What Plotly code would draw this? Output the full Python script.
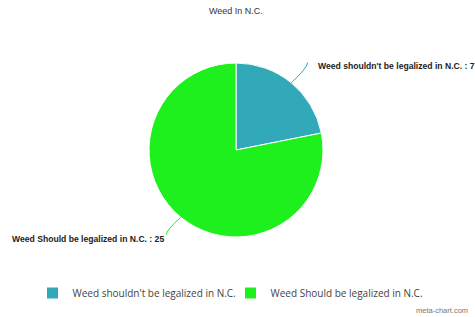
import math
import plotly.graph_objects as go

labels = ["Weed shouldn't be legalized in N.C.", "Weed Should be legalized in N.C."]
values = [7, 25]
colors = ["#31a9b8", "#1ef01e"]
title = "Weed In N.C."

W, H = 475, 317
cx, cy, r = 236, 150, 87  # pie centre / radius in pixels

def px(x):
    return x / W

def py(y):
    return 1 - y / H

fig = go.Figure(go.Pie(
    labels=labels, values=values, sort=False, direction="clockwise", rotation=0,
    marker=dict(colors=colors, line=dict(color="white", width=1)),
    textinfo="none", hoverinfo="label+value",
    domain=dict(x=[px(cx - r), px(cx + r)], y=[py(cy + r), py(cy - r)]),
))

shapes, annotations = [], []
total = sum(values)
acc = 0
for lab, v, col in zip(labels, values, colors):
    mid = (acc + v / 2) / total * 2 * math.pi
    acc += v
    right = math.sin(mid) > 0
    k = 1.3 if right else 1.26
    sx, sy = cx + r * math.sin(mid), cy - r * math.cos(mid)
    ex, ey = cx + k * r * math.sin(mid), cy - k * r * math.cos(mid)
    qx, qy = cx + 1.2 * r * math.sin(mid) + (4 if right else -4), cy - 1.2 * r * math.cos(mid)
    shapes.append(dict(type="path", xref="paper", yref="paper",
                       path=f"M {px(sx)} {py(sy)} Q {px(qx)} {py(qy)} {px(ex)} {py(ey)}",
                       line=dict(color=col, width=1)))
    annotations.append(dict(
        x=px(ex + 8) if right else px(ex), y=py(ey + 3 if right else ey + 4),
        xref="paper", yref="paper", xanchor="left" if right else "right", yanchor="middle",
        text=f"<b>{lab} : {v}</b>", showarrow=False,
        font=dict(family="Liberation Sans, Arial", size=8.6, color="#222")))

annotations.append(dict(x=px(cx), y=py(11), xref="paper", yref="paper", text=title,
                        showarrow=False, xanchor="center", yanchor="middle",
                        font=dict(family="Liberation Sans, Arial", size=9, color="#333")))
annotations.append(dict(x=px(470), y=py(310), xref="paper", yref="paper", text="meta-chart.com",
                        showarrow=False, xanchor="right", yanchor="middle",
                        font=dict(family="Liberation Sans, Arial", size=7.5, color="#777")))

fig.update_layout(
    width=W, height=H, margin=dict(l=0, r=0, t=0, b=0),
    paper_bgcolor="white", plot_bgcolor="white",
    shapes=shapes, annotations=annotations,
    showlegend=True,
    legend=dict(orientation="h", x=0.5 - 7 / W, xanchor="center", y=py(293), yanchor="middle",
                font=dict(family="Open Sans, Liberation Sans", size=10, color="#444"),
                itemwidth=30, tracegroupgap=0, entrywidth=153),
)

fig.write_html("out.html")
